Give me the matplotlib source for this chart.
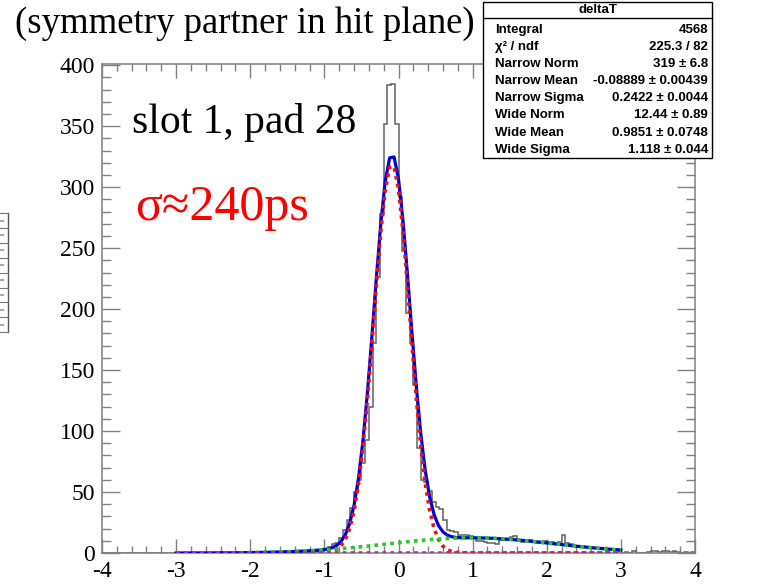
import numpy as np
import matplotlib.pyplot as plt
from matplotlib.patches import Rectangle
from matplotlib.lines import Line2D
from matplotlib.ticker import MultipleLocator

plt.rcParams['font.family'] = ['Liberation Serif', 'DejaVu Serif']
plt.rcParams['axes.unicode_minus'] = False

# deltaT histogram, 160 bins of 0.05 ns from -4 to 4
bin_edges = np.linspace(-4, 4, 161)
counts_far_left = [0] * 20                                   # -4 .. -3
counts_left_tail = [0, 0, 0, 0, 0, 0, 0, 0, 0, 0,            # -3 .. -1
                    0, 0, 1, 0, 0, 0, 0, 0, 0, 0,
                    0, 0, 1, 0, 0, 0, 0, 1, 0, 0,
                    0, 1, 0, 0, 1, 0, 1, 0, 1, 2]
counts_peak_left = [3, 5, 7, 8, 12, 19, 27, 37, 50, 60,      # -1 .. 0
                    74, 93, 120, 172, 226, 278, 352, 384, 385, 352]
counts_peak_right = [292, 248, 197, 172, 138, 86, 60, 58, 51, 42,  # 0 .. 1
                     38, 36, 27, 19, 18, 17, 15, 15, 15, 14]
counts_tail_1 = [12, 10, 10, 9, 8, 8, 7, 11, 11, 11,         # 1 .. 2
                 13, 14, 10, 9, 10, 11, 9, 8, 8, 10]
counts_tail_2 = [9, 9, 8, 9, 15, 8, 7, 6, 5, 6,              # 2 .. 3
                 5, 5, 4, 4, 4, 4, 3, 3, 3, 2]
counts_far_right = [0, 1, 0, 2, 0, 0, 0, 1, 2, 2,            # 3 .. 4
                    1, 2, 2, 1, 2, 1, 0, 1, 0, 1]
counts = np.array(counts_far_left + counts_left_tail + counts_peak_left
                  + counts_peak_right + counts_tail_1 + counts_tail_2
                  + counts_far_right)

# double gaussian fit result
narrow_norm, narrow_mean, narrow_sigma = 319.0, -0.08889, 0.2422
wide_norm, wide_mean, wide_sigma = 12.44, 0.9851, 1.118
fit_range = (-3, 3)

stat_labels = ["Integral", "\u03c7\u00b2 / ndf", "Narrow Norm", "Narrow Mean",
               "Narrow Sigma", "Wide Norm", "Wide Mean", "Wide Sigma"]
stat_values = ["4568", "225.3 / 82", "319 \u00b1 6.8", "-0.08889 \u00b1 0.00439",
               "0.2422 \u00b1 0.0044", "12.44 \u00b1 0.89", "0.9851 \u00b1 0.0748",
               "1.118 \u00b1 0.044"]


def gaus(x, norm, mean, sigma):
    return norm * np.exp(-0.5 * ((x - mean) / sigma) ** 2)


W, H = 768, 584
fig = plt.figure(figsize=(W / 100, H / 100), dpi=100)
ax = fig.add_axes([102 / W, 1 - 553 / H, (695 - 102) / W, (553 - 64) / H])

ax.stairs(counts, bin_edges, color='#606060', lw=1.1, zorder=2)

xf = np.linspace(fit_range[0], fit_range[1], 101)
narrow = gaus(xf, narrow_norm, narrow_mean, narrow_sigma)
wide = gaus(xf, wide_norm, wide_mean, wide_sigma)
ax.plot(xf, narrow + wide, color='#0000dd', lw=2.3, zorder=3)
ax.plot(xf, narrow, color='#ee1111', lw=2.6, ls=(0, (1, 1.2)), zorder=4)
ax.plot(xf, wide, color='#22cc22', lw=2.6, ls=(0, (1, 1.2)), zorder=4)
ax.plot(xf, np.zeros_like(xf), color='#a030a0', lw=2.6, ls=(0, (1, 1.2)), zorder=4)

ax.set_xlim(-4, 4)
ax.set_ylim(0, 401)
ax.xaxis.set_major_locator(MultipleLocator(1))
ax.xaxis.set_minor_locator(MultipleLocator(0.2))
ax.yaxis.set_major_locator(MultipleLocator(50))
ax.yaxis.set_minor_locator(MultipleLocator(10))
ax.tick_params(axis='x', which='major', direction='in', length=10, width=1,
               color='#808080', top=True, labelsize=17, pad=6)
ax.tick_params(axis='x', which='minor', direction='in', length=5, width=1,
               color='#808080', top=True)
ax.tick_params(axis='y', which='major', direction='in', length=13, width=1,
               color='#808080', right=True, labelsize=17, pad=5)
ax.tick_params(axis='y', which='minor', direction='in', length=6.5, width=1,
               color='#808080', right=True)
for s in ax.spines.values():
    s.set_color('#808080')
    s.set_linewidth(1.1)

fig.text(15 / W, 1 - 24 / H, "(symmetry partner in hit plane)", fontsize=26.5,
         va='center', ha='left')
fig.text(132 / W, 1 - 123 / H, "slot 1, pad 28", fontsize=30, va='center', ha='left')
fig.text(135 / W, 1 - 208 / H, "\u03c3\u2248240ps", fontsize=36, color='red',
         va='center', ha='left')

# stats box
bx0, bx1, by0, by1 = 483, 712, 2, 158
fig.add_artist(Rectangle((bx0 / W, 1 - by1 / H), (bx1 - bx0) / W, (by1 - by0) / H,
                         transform=fig.transFigure, facecolor='white',
                         edgecolor='black', lw=1.0, zorder=5))
fig.add_artist(Line2D([bx0 / W, bx1 / W], [1 - 18 / H, 1 - 18 / H],
                      transform=fig.transFigure, color='black', lw=1.0, zorder=6))
stat_font = dict(family=['Liberation Sans', 'DejaVu Sans'], fontsize=9.5,
                 fontweight='bold', zorder=7)
fig.text((bx0 + bx1) / 2 / W, 1 - 10 / H, "deltaT", ha='center', va='center',
         **stat_font)
for i, (lab, val) in enumerate(zip(stat_labels, stat_values)):
    yy = 1 - (30 + 17.1 * i) / H
    fig.text(495 / W, yy, lab, ha='left', va='center', **stat_font)
    fig.text(708 / W, yy, val, ha='right', va='center', **stat_font)

# partial legend frame cut at the left border
fig.add_artist(Line2D([8 / W, 8 / W], [1 - 213 / H, 1 - 332 / H],
                      transform=fig.transFigure, color='#555555', lw=1.0))
for k in range(9):
    yk = 1 - (213 + k * 14.9) / H
    fig.add_artist(Line2D([0, 8 / W], [yk, yk], transform=fig.transFigure,
                          color='#777777', lw=0.8))
    if k < 8:
        fig.add_artist(Line2D([1 / W, 3 / W], [yk - 7.5 / H, yk - 7.5 / H],
                              transform=fig.transFigure, color='#aaaaaa', lw=1.5))

fig.savefig("out.png", dpi=100)
